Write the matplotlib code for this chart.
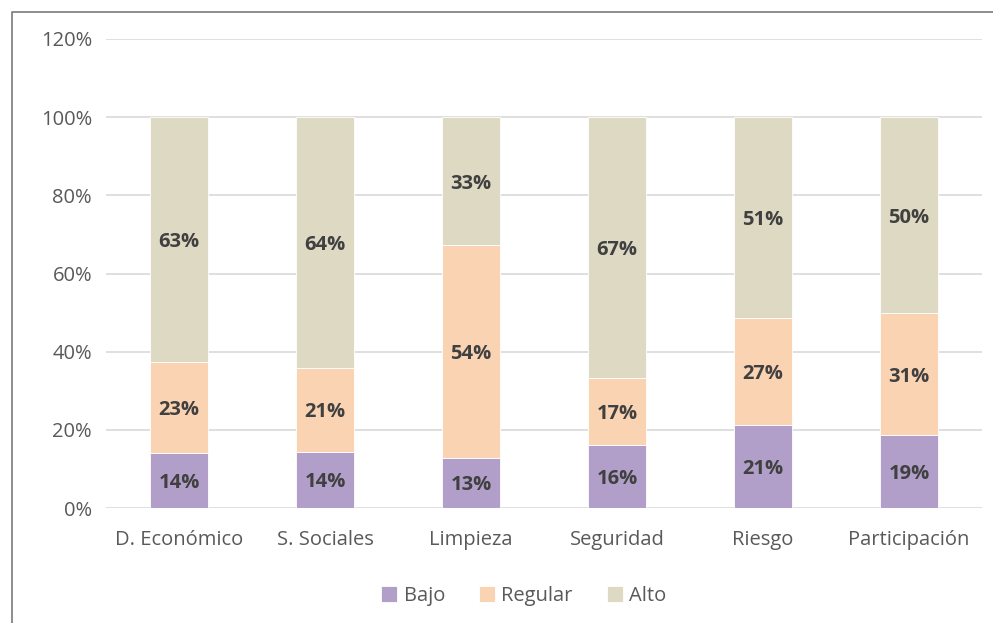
import matplotlib.pyplot as plt
import numpy as np
from matplotlib.lines import Line2D

# datos
categorias = ['D. Económico', 'S. Sociales', 'Limpieza', 'Seguridad', 'Riesgo', 'Participación']
bajo = [14.2, 14.4, 12.8, 16.0, 21.3, 18.6]
regular = [23.1, 21.4, 54.4, 17.2, 27.3, 31.3]
alto = [62.7, 64.2, 32.8, 66.8, 51.4, 50.1]
series = ['Bajo', 'Regular', 'Alto']
colores = ['#b19fc9', '#fad3b3', '#ddd9c3']

plt.rcParams['font.family'] = ['Open Sans', 'DejaVu Sans']

fig = plt.figure(figsize=(9.93, 6.23), dpi=100)
ax = fig.add_axes([106 / 993, 1 - 508 / 623, (982 - 106) / 993, (508 - 39) / 623])

x = np.arange(len(categorias))
base = np.zeros(len(categorias))
for nombre, vals, col in zip(series, [bajo, regular, alto], colores):
    vals = np.array(vals) / 100
    ax.bar(x, vals, 0.4, bottom=base, color=col, edgecolor='white',
           linewidth=0.6, label=nombre, zorder=3)
    for xi, b, v in zip(x, base, vals):
        ax.text(xi, b + v / 2, f"{round(v * 100):.0f}%", ha='center', va='center_baseline',
                fontsize=14.5, fontweight='bold', color='#404040', zorder=4)
    base += vals

ax.set_xlim(-0.5, len(categorias) - 0.5)
ax.set_ylim(0, 1.2)
ticks = np.arange(0, 1.21, 0.2)
ax.set_yticks(ticks)
ax.set_yticklabels([f"{int(round(t * 100))}%" for t in ticks])
ax.set_xticks(x)
ax.set_xticklabels(categorias)
ax.tick_params(axis='both', length=0, labelsize=14.5, labelcolor='#595959')
ax.tick_params(axis='y', pad=10)
ax.tick_params(axis='x', pad=16)
ax.grid(axis='y', color='#d9d9d9', linewidth=1.2, zorder=0)
for s in ax.spines.values():
    s.set_visible(False)

ax.legend(loc='center', bbox_to_anchor=(0.477, -(596 - 508) / (508 - 39)),
          ncol=3, frameon=False, fontsize=14.5, labelcolor='#595959',
          handlelength=0.8, handleheight=0.8, handletextpad=0.3, columnspacing=1.7)

# marco de la imagen
fig.add_artist(Line2D([12 / 993, 12 / 993, 1], [0, 1 - 12 / 623, 1 - 12 / 623],
                      transform=fig.transFigure, color='#7a7a7a', linewidth=1.2))

plt.savefig('out.png', dpi=100)
